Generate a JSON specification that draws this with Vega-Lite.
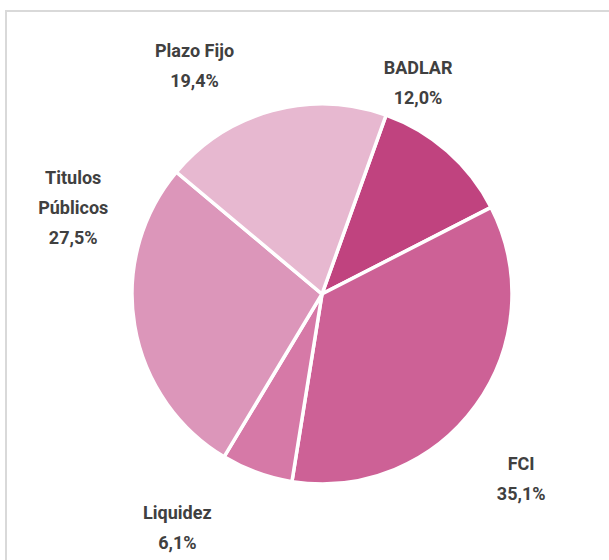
{
  "$schema": "https://vega.github.io/schema/vega-lite/v6.json",
  "width": 632,
  "height": 566,
  "autosize": {"type": "none"},
  "padding": {"left": 6, "top": 11, "right": 0, "bottom": 0},
  "background": "white",
  "config": {"view": {"stroke": null}},
  "data": {
    "values": [
      {"category": "BADLAR", "label": "BADLAR\n12,0%", "value": 12.0, "order": 1},
      {"category": "FCI", "label": "FCI\n35,1%", "value": 35.1, "order": 2},
      {"category": "Liquidez", "label": "Liquidez\n6,1%", "value": 6.1, "order": 3},
      {"category": "Titulos Públicos", "label": "Titulos\nPúblicos\n27,5%", "value": 27.5, "order": 4},
      {"category": "Plazo Fijo", "label": "Plazo Fijo\n19,4%", "value": 19.4, "order": 5}
    ]
  },
  "layer": [
    {
      "data": {"values": [{"frame": "border"}]},
      "mark": {"type": "rect", "fill": null, "stroke": "#d9d9d9", "strokeWidth": 2},
      "encoding": {}
    },
    {
      "mark": {"type": "arc", "outerRadius": 190, "stroke": "white", "strokeWidth": 3.5},
      "encoding": {
        "theta": {"field": "value", "type": "quantitative", "stack": true, "scale": {"range": [0.344, 6.6272]}},
        "order": {"field": "order", "type": "quantitative"},
        "color": {
          "field": "category", "type": "nominal", "legend": null,
          "scale": {
            "domain": ["BADLAR", "FCI", "Liquidez", "Titulos Públicos", "Plazo Fijo"],
            "range": ["#C0437F", "#CD6196", "#D679A7", "#DC96BA", "#E7B8D0"]
          }
        }
      }
    },
    {
      "mark": {"type": "text", "radius": 235, "dx": -59, "dy": -48, "font": "Roboto", "fontWeight": "bold", "fontSize": 18, "color": "#404040", "align": "center", "baseline": "middle", "lineHeight": 30, "lineBreak": "\n"},
      "encoding": {
        "theta": {"field": "value", "type": "quantitative", "stack": true},
        "order": {"field": "order", "type": "quantitative"},
        "text": {"condition": {"test": "datum.category === 'BADLAR'", "field": "label"}, "value": ""}
      }
    },
    {
      "mark": {"type": "text", "radius": 235, "dx": 9, "dy": 33, "font": "Roboto", "fontWeight": "bold", "fontSize": 18, "color": "#404040", "align": "center", "baseline": "middle", "lineHeight": 30, "lineBreak": "\n"},
      "encoding": {
        "theta": {"field": "value", "type": "quantitative", "stack": true},
        "order": {"field": "order", "type": "quantitative"},
        "text": {"condition": {"test": "datum.category === 'FCI'", "field": "label"}, "value": ""}
      }
    },
    {
      "mark": {"type": "text", "radius": 235, "dx": -64, "dy": -1, "font": "Roboto", "fontWeight": "bold", "fontSize": 18, "color": "#404040", "align": "center", "baseline": "middle", "lineHeight": 30, "lineBreak": "\n"},
      "encoding": {
        "theta": {"field": "value", "type": "quantitative", "stack": true},
        "order": {"field": "order", "type": "quantitative"},
        "text": {"condition": {"test": "datum.category === 'Liquidez'", "field": "label"}, "value": ""}
      }
    },
    {
      "mark": {"type": "text", "radius": 235, "dx": -17, "dy": -154, "font": "Roboto", "fontWeight": "bold", "fontSize": 18, "color": "#404040", "align": "center", "baseline": "middle", "lineHeight": 30, "lineBreak": "\n"},
      "encoding": {
        "theta": {"field": "value", "type": "quantitative", "stack": true},
        "order": {"field": "order", "type": "quantitative"},
        "text": {"condition": {"test": "datum.category === 'Titulos Públicos'", "field": "label"}, "value": ""}
      }
    },
    {
      "mark": {"type": "text", "radius": 235, "dx": -66, "dy": -15, "font": "Roboto", "fontWeight": "bold", "fontSize": 18, "color": "#404040", "align": "center", "baseline": "middle", "lineHeight": 30, "lineBreak": "\n"},
      "encoding": {
        "theta": {"field": "value", "type": "quantitative", "stack": true},
        "order": {"field": "order", "type": "quantitative"},
        "text": {"condition": {"test": "datum.category === 'Plazo Fijo'", "field": "label"}, "value": ""}
      }
    }
  ]
}
